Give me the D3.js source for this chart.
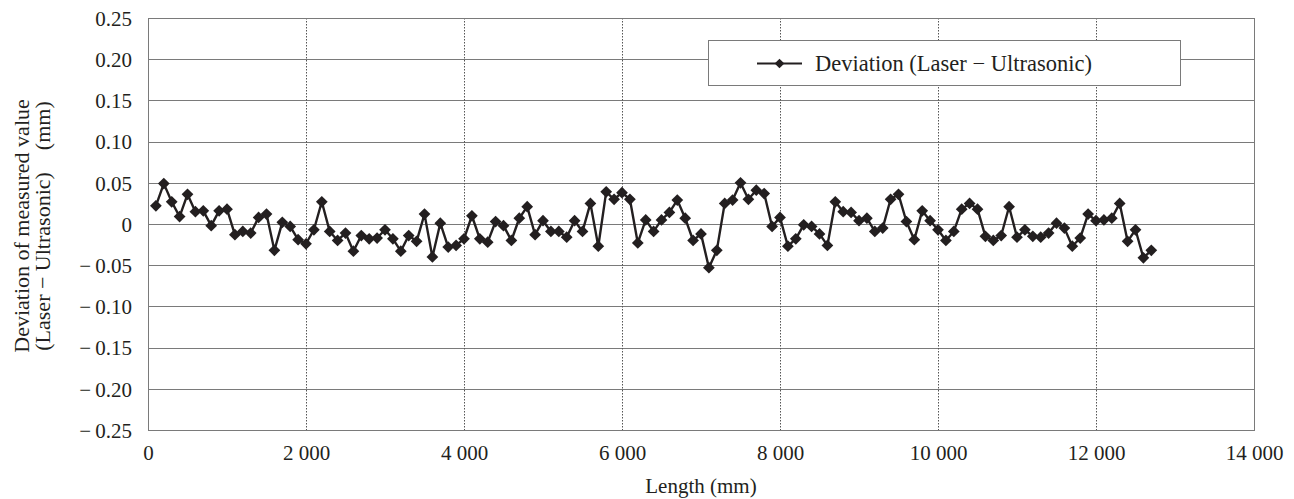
<!DOCTYPE html>
<html>
<head>
<meta charset="utf-8">
<script src="https://cdn.jsdelivr.net/npm/d3@7"></script>
<style>
  html, body { margin: 0; padding: 0; background: #fff; }
  svg { display: block; }
  text { font-family: "Liberation Serif", "DejaVu Serif", serif; fill: #231f20; white-space: pre; }
</style>
</head>
<body>
<svg id="chart" width="1294" height="499"></svg>
<script>
// Measurement positions along the length (mm)
const lengths = [
  100, 200, 300, 400, 500, 600, 700, 800, 900, 1000,
  1100, 1200, 1300, 1400, 1500, 1600, 1700, 1800, 1900, 2000,
  2100, 2200, 2300, 2400, 2500, 2600, 2700, 2800, 2900, 3000,
  3100, 3200, 3300, 3400, 3500, 3600, 3700, 3800, 3900, 4000,
  4100, 4200, 4300, 4400, 4500, 4600, 4700, 4800, 4900, 5000,
  5100, 5200, 5300, 5400, 5500, 5600, 5700, 5800, 5900, 6000,
  6100, 6200, 6300, 6400, 6500, 6600, 6700, 6800, 6900, 7000,
  7100, 7200, 7300, 7400, 7500, 7600, 7700, 7800, 7900, 8000,
  8100, 8200, 8300, 8400, 8500, 8600, 8700, 8800, 8900, 9000,
  9100, 9200, 9300, 9400, 9500, 9600, 9700, 9800, 9900, 10000,
  10100, 10200, 10300, 10400, 10500, 10600, 10700, 10800, 10900, 11000,
  11100, 11200, 11300, 11400, 11500, 11600, 11700, 11800, 11900, 12000,
  12100, 12200, 12300, 12400, 12500, 12600, 12700
];

// Deviation laser - ultrasonic (mm)
const deviation = [
  0.022, 0.049, 0.027, 0.009, 0.036, 0.015, 0.016, -0.002, 0.016, 0.018,
  -0.013, -0.009, -0.011, 0.008, 0.012, -0.032, 0.002, -0.003, -0.019, -0.024,
  -0.007, 0.027, -0.009, -0.020, -0.011, -0.033, -0.014, -0.018, -0.017, -0.007,
  -0.018, -0.033, -0.014, -0.021, 0.012, -0.040, 0.001, -0.028, -0.026, -0.018,
  0.010, -0.018, -0.022, 0.003, -0.002, -0.020, 0.007, 0.021, -0.013, 0.004,
  -0.009, -0.009, -0.016, 0.004, -0.009, 0.025, -0.027, 0.039, 0.030, 0.038,
  0.030, -0.023, 0.005, -0.009, 0.005, 0.014, 0.029, 0.007, -0.020, -0.012,
  -0.053, -0.032, 0.025, 0.029, 0.050, 0.030, 0.041, 0.037, -0.003, 0.008,
  -0.027, -0.018, -0.001, -0.003, -0.012, -0.026, 0.027, 0.015, 0.014, 0.004,
  0.007, -0.009, -0.005, 0.030, 0.036, 0.003, -0.019, 0.016, 0.004, -0.007,
  -0.020, -0.009, 0.018, 0.025, 0.018, -0.015, -0.020, -0.014, 0.021, -0.016,
  -0.007, -0.015, -0.016, -0.011, 0.001, -0.005, -0.027, -0.017, 0.012, 0.004,
  0.005, 0.007, 0.025, -0.021, -0.007, -0.041, -0.032
];

const xTickValues = [0, 2000, 4000, 6000, 8000, 10000, 12000, 14000];
const xTickLabels = ["0", "2 000", "4 000", "6 000", "8 000", "10 000", "12 000", "14 000"];
const yTickValues = [0.25, 0.20, 0.15, 0.10, 0.05, 0, -0.05, -0.10, -0.15, -0.20, -0.25];
const yTickLabels = ["0.25", "0.20", "0.15", "0.10", "0.05", "0",
  "\u2212\u20090.05", "\u2212\u20090.10", "\u2212\u20090.15", "\u2212\u20090.20", "\u2212\u20090.25"];

const seriesName = "Deviation (Laser \u2212 Ultrasonic)";
const xTitle = "Length (mm)";
const yTitleLines = ["Deviation of measured value", "(Laser \u2212 Ultrasonic)    (mm)"];

const svg = d3.select("#chart");
const plot = { left: 148, top: 18, right: 1254, bottom: 430 };
const ink = "#231f20";

const x = d3.scaleLinear().domain([0, 14000]).range([plot.left, plot.right]);
const y = d3.scaleLinear().domain([-0.25, 0.25]).range([plot.bottom, plot.top]);

// Horizontal grid lines
svg.append("g")
  .selectAll("line")
  .data(yTickValues)
  .join("line")
  .attr("x1", plot.left).attr("x2", plot.right)
  .attr("y1", d => Math.round(y(d)) + 0.5).attr("y2", d => Math.round(y(d)) + 0.5)
  .attr("stroke", "#7a7a7a").attr("stroke-width", 1);

// Vertical dotted grid lines
svg.append("g")
  .selectAll("line")
  .data(xTickValues.filter(d => d > 0 && d < 14000))
  .join("line")
  .attr("x1", d => Math.round(x(d)) + 0.5).attr("x2", d => Math.round(x(d)) + 0.5)
  .attr("y1", plot.top).attr("y2", plot.bottom)
  .attr("stroke", "#555").attr("stroke-width", 1)
  .attr("stroke-dasharray", "1.5,1.5");

// Plot frame
svg.append("rect")
  .attr("x", plot.left + 0.5).attr("y", plot.top + 0.5)
  .attr("width", plot.right - plot.left).attr("height", plot.bottom - plot.top)
  .attr("fill", "none").attr("stroke", "#7a7a7a").attr("stroke-width", 1);

// Y axis labels
const yAxis = d3.axisLeft(y)
  .tickValues(yTickValues)
  .tickFormat((d, i) => yTickLabels[i])
  .tickSize(0).tickPadding(16);
const gy = svg.append("g").attr("transform", `translate(${plot.left},0)`).call(yAxis);
gy.select(".domain").remove();
gy.selectAll("text").attr("font-size", 21).attr("dy", "0.35em")
  .style("font-family", "Liberation Serif, serif").attr("fill", ink);

// X axis labels
const xAxis = d3.axisBottom(x)
  .tickValues(xTickValues)
  .tickFormat((d, i) => xTickLabels[i])
  .tickSize(0).tickPadding(15);
const gx = svg.append("g").attr("transform", `translate(0,${plot.bottom})`).call(xAxis);
gx.select(".domain").remove();
gx.selectAll("text").attr("font-size", 21)
  .style("font-family", "Liberation Serif, serif").attr("fill", ink);

// Axis titles
svg.append("text")
  .attr("x", (plot.left + plot.right) / 2).attr("y", 493)
  .attr("text-anchor", "middle").attr("font-size", 21)
  .text(xTitle);

const yTitle = svg.append("text")
  .attr("transform", `translate(29,${(plot.top + plot.bottom) / 2 + 2}) rotate(-90)`)
  .attr("text-anchor", "middle").attr("font-size", 22);
yTitleLines.forEach((t, i) => {
  yTitle.append("tspan").attr("x", 0).attr("dy", i === 0 ? 0 : 21).text(t);
});

// Series line and diamond markers
const points = lengths.map((l, i) => [l, deviation[i]]);
svg.append("path")
  .datum(points)
  .attr("fill", "none").attr("stroke", ink).attr("stroke-width", 2.4)
  .attr("stroke-linejoin", "round")
  .attr("d", d3.line().x(d => x(d[0])).y(d => y(d[1])));

const diamond = d3.symbol().type(d3.symbolDiamond2).size(88);
svg.append("g")
  .selectAll("path")
  .data(points)
  .join("path")
  .attr("transform", d => `translate(${x(d[0])},${y(d[1])})`)
  .attr("d", diamond)
  .attr("fill", ink);

// Legend
const legend = svg.append("g");
legend.append("rect")
  .attr("x", 708.5).attr("y", 40.5).attr("width", 472).attr("height", 45)
  .attr("fill", "#fff").attr("stroke", "#7a7a7a").attr("stroke-width", 1);
legend.append("line")
  .attr("x1", 757).attr("x2", 802).attr("y1", 63.5).attr("y2", 63.5)
  .attr("stroke", ink).attr("stroke-width", 2.2);
legend.append("path")
  .attr("transform", "translate(779.5,63.5)")
  .attr("d", d3.symbol().type(d3.symbolDiamond2).size(60)).attr("fill", ink);
legend.append("text")
  .attr("x", 815).attr("y", 70.5).attr("font-size", 22.5)
  .text(seriesName);
</script>
</body>
</html>
